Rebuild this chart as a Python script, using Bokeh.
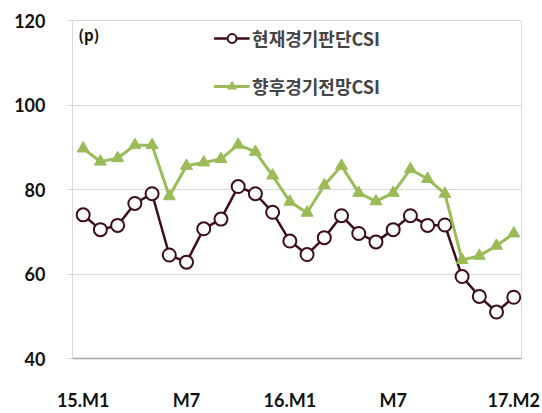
from bokeh.plotting import figure
from bokeh.models import Legend, LegendItem, FixedTicker, Range1d, Label
from bokeh.embed import file_html
from bokeh.resources import INLINE

months = list(range(26))  # 2015.01 .. 2017.02
tick_pos = [0, 6, 12, 18, 25]
tick_labels = ["15.M1", "M7", "16.M1", "M7", "17.M2"]
current_csi = [74, 70.5, 71.5, 76.7, 79, 64.5, 62.8, 70.7, 73, 80.7, 79, 74.6, 67.8, 64.6,
               68.6, 73.8, 69.6, 67.6, 70.5, 73.8, 71.5, 71.6, 59.4, 54.7, 51, 54.5]
future_csi = [89.7, 86.6, 87.4, 90.5, 90.5, 78.4, 85.6, 86.4, 87.2, 90.6, 88.9, 83.3, 77.1, 74.5,
              81, 85.6, 79.2, 77.2, 79.2, 84.8, 82.5, 79, 63.3, 64.3, 66.7, 69.6]
name_current = "현재경기판단CSI"
name_future = "향후경기전망CSI"

p = figure(width=542, height=413, output_backend="svg", toolbar_location=None,
           x_range=Range1d(-0.62, 25.45), y_range=Range1d(40, 120),
           min_border_left=72, min_border_top=20, min_border_right=21, min_border_bottom=48)
p.outline_line_color = "#d9d9d9"
p.background_fill_color = "white"
p.border_fill_color = "white"

p.xgrid.grid_line_color = None
p.ygrid.grid_line_color = "#d9d9d9"
p.ygrid.grid_line_width = 1

p.yaxis.ticker = FixedTicker(ticks=[40, 60, 80, 100, 120])
p.yaxis.axis_line_color = "#d9d9d9"
p.yaxis.major_tick_line_color = "#d9d9d9"
p.yaxis.major_tick_out = 6
p.yaxis.major_tick_in = 0
p.yaxis.minor_tick_line_color = None
p.yaxis.major_label_standoff = 21
p.yaxis.major_label_text_font = "Lato"
p.yaxis.major_label_text_font_style = "bold"
p.yaxis.major_label_text_font_size = "18px"
p.yaxis.major_label_text_color = "#111111"

p.xaxis.ticker = FixedTicker(ticks=tick_pos)
p.xaxis.major_label_overrides = {t: l for t, l in zip(tick_pos, tick_labels)}
p.xaxis.axis_line_color = "#a6a6a6"
p.xaxis.axis_line_width = 1.5
p.xaxis.major_tick_line_color = None
p.xaxis.minor_tick_line_color = None
p.xaxis.major_label_standoff = 24
p.xaxis.major_label_text_font = "Lato"
p.xaxis.major_label_text_font_style = "bold"
p.xaxis.major_label_text_font_size = "18px"
p.xaxis.major_label_text_color = "#111111"

red = "#3d0d18"
green = "#9bbb59"

l1 = p.line(months, current_csi, line_color=red, line_width=2.5)
s1 = p.scatter(months, current_csi, marker="circle", size=13, line_color=red,
               line_width=2, fill_color="white")
l2 = p.line(months, future_csi, line_color=green, line_width=3)
s2 = p.scatter(months, future_csi, marker="triangle", size=12, line_color=green,
               fill_color=green)

legend = Legend(items=[LegendItem(label=name_current, renderers=[l1, s1]),
                       LegendItem(label=name_future, renderers=[l2, s2])],
                location="top_center", orientation="vertical")
legend.label_text_font = "Noto Sans CJK KR"
legend.label_text_font_style = "bold"
legend.label_text_font_size = "18px"
legend.label_height = 22
legend.glyph_height = 22
legend.glyph_width = 36
legend.spacing = 22
legend.padding = 10
legend.margin = 5
legend.label_standoff = 3
legend.border_line_color = None
legend.background_fill_alpha = 0
p.add_layout(legend)

p.add_layout(Label(x=-0.28, y=116.8, text="(p)", text_font="Noto Sans CJK KR",
                   text_font_style="bold", text_font_size="15px", text_baseline="middle",
                   text_color="#111111"))

open("out.html", "w").write(file_html(p, INLINE))
